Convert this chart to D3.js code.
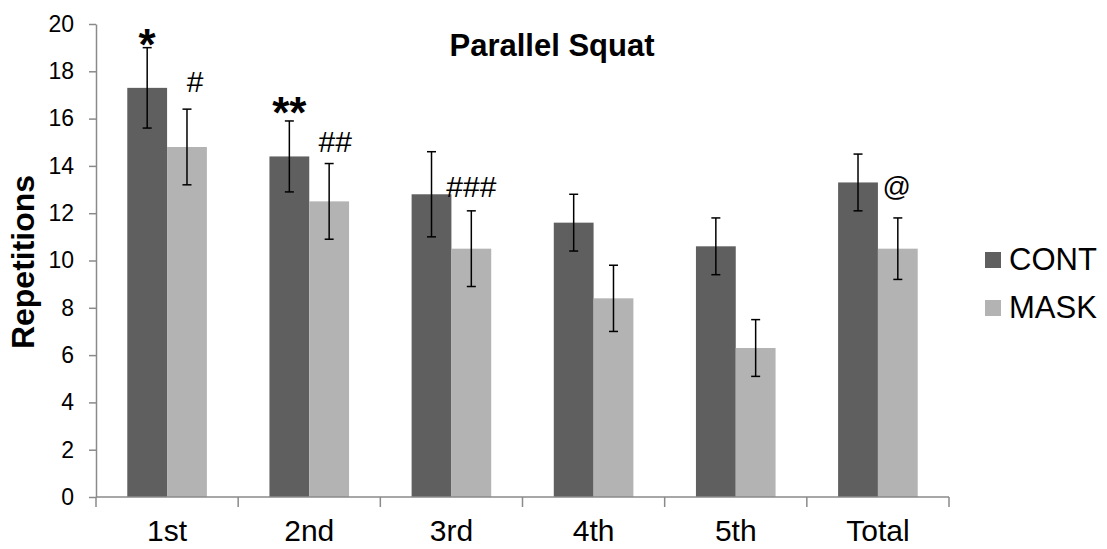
<!DOCTYPE html>
<html>
<head>
<meta charset="utf-8">
<script src="https://cdn.jsdelivr.net/npm/d3@7"></script>
<style>
  body { margin: 0; background: #fff; }
  svg { display: block; font-family: "Liberation Sans", Arial, sans-serif; }
</style>
</head>
<body>
<div id="grafica"></div>
<script>
// Data
var categories = ["1st", "2nd", "3rd", "4th", "5th", "Total"];
var series = ["CONT", "MASK"];
var contValues = [17.3, 14.4, 12.8, 11.6, 10.6, 13.3];
var maskValues = [14.8, 12.5, 10.5, 8.4, 6.3, 10.5];
var contErrors = [1.7, 1.5, 1.8, 1.2, 1.2, 1.2];
var maskErrors = [1.6, 1.6, 1.6, 1.4, 1.2, 1.3];
var yTicks = [0, 2, 4, 6, 8, 10, 12, 14, 16, 18, 20];
var annotations = [
  { cat: "1st", serie: "CONT", label: "*" },
  { cat: "1st", serie: "MASK", label: "#" },
  { cat: "2nd", serie: "CONT", label: "**" },
  { cat: "2nd", serie: "MASK", label: "##" },
  { cat: "3rd", serie: "MASK", label: "###" },
  { cat: "Total", serie: "MASK", label: "@" }
];

var colors = { CONT: "#5f5f5f", MASK: "#b3b3b3" };

// build rows from the arrays
var data = categories.map(function (c, i) {
  return {
    cat: c,
    CONT: contValues[i], MASK: maskValues[i],
    errCONT: contErrors[i], errMASK: maskErrors[i]
  };
});

var width = 1107, height = 549;
var plot = { left: 96, right: 949, top: 24, bottom: 497 };

var svg = d3.select("#grafica")
  .append("svg")
  .attr("width", width)
  .attr("height", height);

// scales
var x0 = d3.scaleBand()
  .domain(categories)
  .range([plot.left, plot.right])
  .paddingInner(0.44)
  .paddingOuter(0.22);

var x1 = d3.scaleBand()
  .domain(series)
  .range([0, x0.bandwidth()]);

var y = d3.scaleLinear()
  .domain([0, 20])
  .range([plot.bottom, plot.top]);

// y axis
var yAxis = svg.append("g")
  .attr("transform", "translate(" + plot.left + ",0)")
  .call(d3.axisLeft(y).tickValues(yTicks).tickSize(7).tickSizeOuter(0).tickPadding(15));
yAxis.select(".domain").attr("stroke", "#8a8a8a").attr("stroke-width", 1.5);
yAxis.selectAll(".tick line").attr("stroke", "#8a8a8a").attr("stroke-width", 1.5);
yAxis.selectAll(".tick text")
  .style("font-size", "23px")
  .attr("fill", "#000");

// bars
var groups = svg.append("g")
  .selectAll("g")
  .data(data)
  .enter()
  .append("g")
  .attr("transform", function (d) { return "translate(" + x0(d.cat) + ",0)"; });

groups.selectAll("rect")
  .data(function (d) { return series.map(function (s) { return { key: s, value: d[s], err: d["err" + s] }; }); })
  .enter()
  .append("rect")
  .attr("x", function (d) { return x1(d.key); })
  .attr("y", function (d) { return y(d.value); })
  .attr("width", x1.bandwidth())
  .attr("height", function (d) { return y(0) - y(d.value); })
  .style("fill", function (d) { return colors[d.key]; });

// error bars
var capW = 4.5;
var errs = groups.selectAll(".err")
  .data(function (d) { return series.map(function (s) { return { key: s, value: d[s], err: d["err" + s] }; }); })
  .enter()
  .append("g")
  .attr("class", "err")
  .attr("stroke", "#000")
  .attr("stroke-width", 1.5);
errs.append("line")
  .attr("x1", function (d) { return x1(d.key) + x1.bandwidth() / 2; })
  .attr("x2", function (d) { return x1(d.key) + x1.bandwidth() / 2; })
  .attr("y1", function (d) { return y(d.value + d.err); })
  .attr("y2", function (d) { return y(d.value - d.err); });
errs.append("line")
  .attr("x1", function (d) { return x1(d.key) + x1.bandwidth() / 2 - capW; })
  .attr("x2", function (d) { return x1(d.key) + x1.bandwidth() / 2 + capW; })
  .attr("y1", function (d) { return y(d.value + d.err); })
  .attr("y2", function (d) { return y(d.value + d.err); });
errs.append("line")
  .attr("x1", function (d) { return x1(d.key) + x1.bandwidth() / 2 - capW; })
  .attr("x2", function (d) { return x1(d.key) + x1.bandwidth() / 2 + capW; })
  .attr("y1", function (d) { return y(d.value - d.err); })
  .attr("y2", function (d) { return y(d.value - d.err); });

// x axis: baseline, separators between groups and labels
svg.append("line")
  .attr("x1", plot.left).attr("x2", plot.right)
  .attr("y1", y(0)).attr("y2", y(0))
  .attr("stroke", "#8a8a8a").attr("stroke-width", 1.5);
svg.selectAll(".xsep")
  .data(d3.range(categories.length + 1))
  .enter()
  .append("line")
  .attr("x1", function (i) { return plot.left + i * x0.step(); })
  .attr("x2", function (i) { return plot.left + i * x0.step(); })
  .attr("y1", y(0))
  .attr("y2", y(0) + 10)
  .attr("stroke", "#8a8a8a").attr("stroke-width", 1.5);
svg.selectAll(".xlab")
  .data(categories)
  .enter()
  .append("text")
  .attr("x", function (d) { return x0(d) + x0.bandwidth() / 2; })
  .attr("y", 541)
  .attr("text-anchor", "middle")
  .style("font-size", "30px")
  .text(function (d) { return d; });

// significance marks
var markStyle = {
  "*": { dx: 0, dy: 12, size: 44, weight: "bold" },
  "**": { dx: 0, dy: 7, size: 44, weight: "bold" },
  "#": { dx: 8, dy: -17, size: 30, weight: "normal" },
  "##": { dx: 6, dy: -12, size: 30, weight: "normal" },
  "###": { dx: 0, dy: -14, size: 30, weight: "normal" },
  "@": { dx: -1, dy: -22, size: 28, weight: "normal" }
};
svg.selectAll(".mark")
  .data(annotations)
  .enter()
  .append("text")
  .attr("x", function (d) { return x0(d.cat) + x1(d.serie) + x1.bandwidth() / 2 + markStyle[d.label].dx; })
  .attr("y", function (d) {
    var row = data[categories.indexOf(d.cat)];
    return y(row[d.serie] + row["err" + d.serie]) + markStyle[d.label].dy;
  })
  .attr("text-anchor", "middle")
  .style("font-size", function (d) { return markStyle[d.label].size + "px"; })
  .style("font-weight", function (d) { return markStyle[d.label].weight; })
  .text(function (d) { return d.label; });

// title
svg.append("text")
  .attr("x", 552)
  .attr("y", 56)
  .attr("text-anchor", "middle")
  .style("font-size", "31px")
  .style("font-weight", "bold")
  .text("Parallel Squat");

// y label
svg.append("text")
  .attr("transform", "translate(34,262) rotate(-90)")
  .attr("text-anchor", "middle")
  .style("font-size", "32px")
  .style("font-weight", "bold")
  .text("Repetitions");

// legend
var legend = svg.selectAll(".legend")
  .data(series)
  .enter()
  .append("g")
  .attr("transform", function (d, i) { return "translate(985," + (252 + i * 48) + ")"; });
legend.append("rect")
  .attr("width", 16)
  .attr("height", 16)
  .style("fill", function (d) { return colors[d]; });
legend.append("text")
  .attr("x", 24)
  .attr("y", 18)
  .style("font-size", "31px")
  .text(function (d) { return d; });
</script>
</body>
</html>
